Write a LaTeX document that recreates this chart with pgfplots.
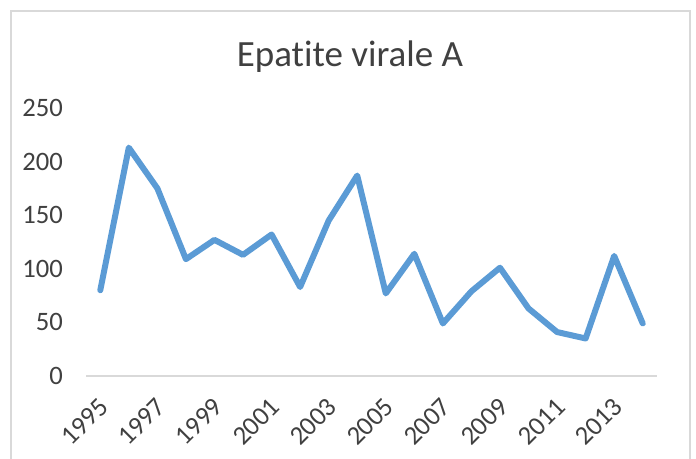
\documentclass[border=0pt]{standalone}
\usepackage{pgfplots}
\pgfplotsset{compat=1.18}
\usepackage{fontspec}
\setmainfont{Carlito}[Ligatures={NoCommon}]
\definecolor{lineblue}{HTML}{5B9BD5}
\definecolor{txt}{HTML}{404040}
\definecolor{framegray}{HTML}{D9D9D9}
\begin{document}
\begin{tikzpicture}
\useasboundingbox (0pt,0pt) rectangle (348pt,229.5pt);
\begin{scope}
\clip (0pt,0pt) rectangle (348pt,229.5pt);
\draw[framegray, line width=1pt] (5.5pt,-10pt) rectangle (345pt,224pt);
\end{scope}
\node[txt, font=\fontsize{18.5}{21}\selectfont, anchor=base] at (175pt,196pt) {Epatite virale A};
\begin{axis}[
  at={(43pt,41.5pt)}, anchor=south west,
  scale only axis, width=285.5pt, height=134pt,
  xmin=1994.5, xmax=2014.5, ymin=0, ymax=250,
  axis x line*=bottom, axis y line*=left,
  x axis line style={draw=framegray, line width=1pt},
  y axis line style={draw=none},
  major tick length=0pt,
  xtick={1995,1997,...,2013},
  ytick={0,50,...,250},
  x tick label style={xshift=-1.3pt, yshift=-8.6pt, rotate=45, anchor=north east, font=\fontsize{13.3}{15}\selectfont, text=txt, inner sep=1pt},
  y tick label style={font=\fontsize{13.3}{15}\selectfont, text=txt, xshift=-8pt},
  xticklabel={\pgfmathprintnumber[1000 sep=]{\tick}},
  /pgf/number format/assume math mode=true,
  clip=false,
]
\addplot[lineblue, line width=3pt, line join=round, line cap=round] coordinates {
(1995,80) (1996,213) (1997,175) (1998,109) (1999,127) (2000,113) (2001,132) (2002,83) (2003,145) (2004,187)
(2005,77) (2006,114) (2007,49) (2008,79) (2009,101) (2010,63) (2011,41) (2012,35) (2013,112) (2014,49)
};
\end{axis}
\end{tikzpicture}
\end{document}
